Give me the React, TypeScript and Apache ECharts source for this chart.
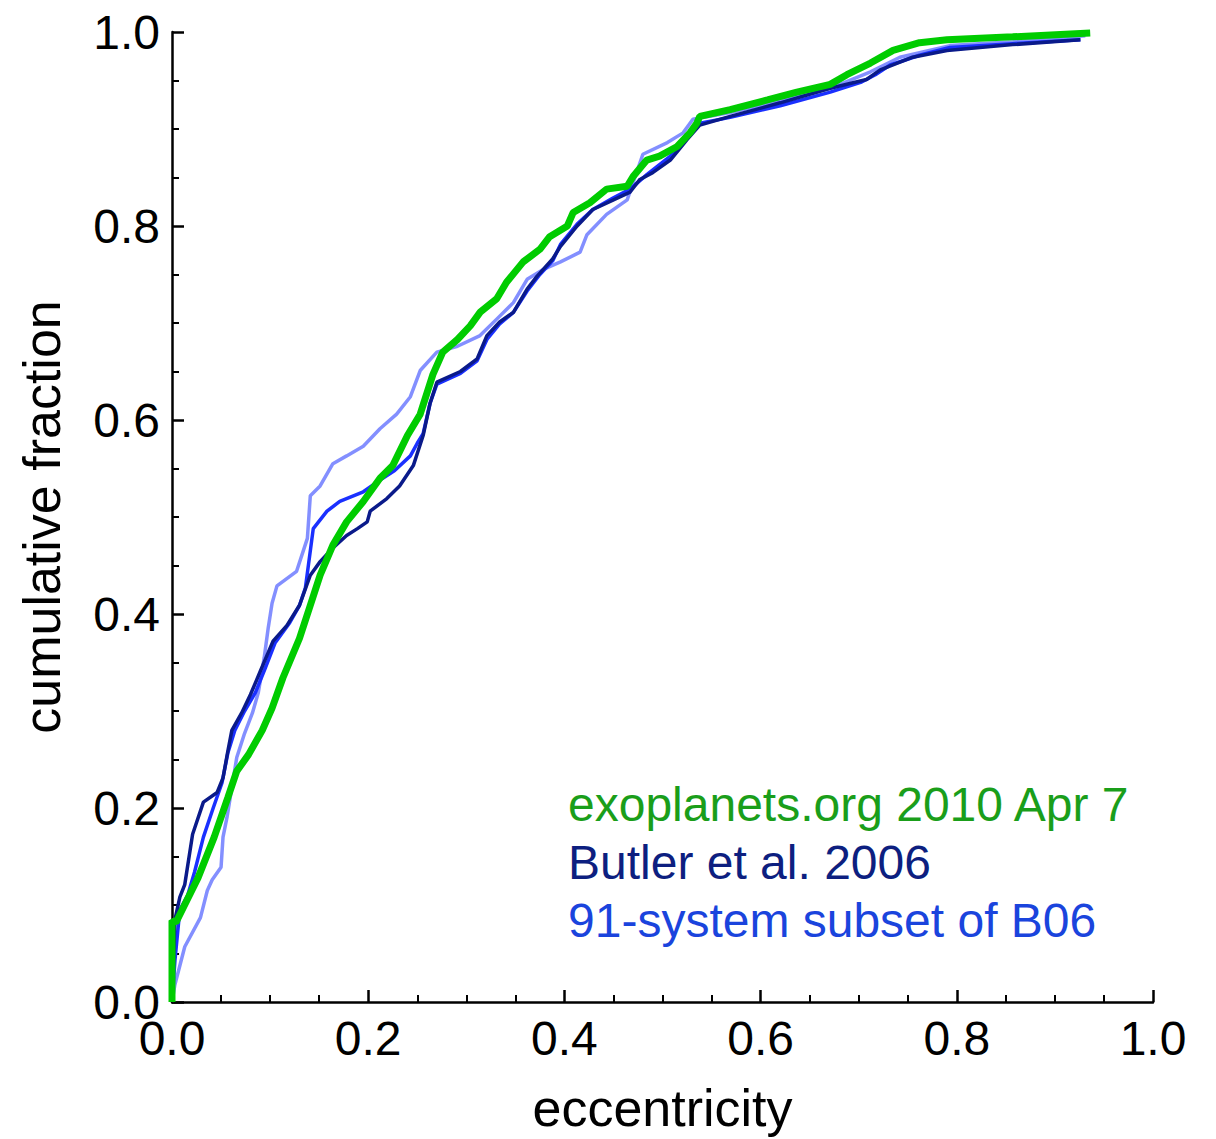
import React, { useEffect, useRef } from "react";
import * as echarts from "echarts";

// [eccentricity, cumulative fraction]
const greenSeries: number[][] = [
  [0, 0], [0, 0.084], [0.004, 0.082], [0.0265, 0.128], [0.043, 0.17], [0.057, 0.211],
  [0.066, 0.238], [0.078, 0.255], [0.092, 0.28], [0.102, 0.303], [0.113, 0.334],
  [0.13, 0.375], [0.141, 0.409], [0.151, 0.44], [0.164, 0.471], [0.178, 0.495],
  [0.195, 0.516], [0.212, 0.54], [0.225, 0.553], [0.24, 0.584], [0.253, 0.606],
  [0.266, 0.647], [0.276, 0.67], [0.291, 0.683], [0.304, 0.697], [0.314, 0.711],
  [0.331, 0.725], [0.341, 0.742], [0.358, 0.763], [0.375, 0.776], [0.385, 0.789],
  [0.403, 0.8], [0.409, 0.814], [0.426, 0.824], [0.443, 0.838], [0.464, 0.841],
  [0.47, 0.851], [0.484, 0.868], [0.497, 0.872], [0.515, 0.882], [0.528, 0.896],
  [0.535, 0.906], [0.538, 0.913], [0.569, 0.92], [0.607, 0.93], [0.637, 0.938],
  [0.671, 0.946], [0.688, 0.956], [0.712, 0.968], [0.735, 0.981], [0.762, 0.989],
  [0.79, 0.992], [0.857, 0.995], [0.936, 0.999],
];

const navySeries: number[][] = [
  [0, 0], [0.003, 0.085], [0.008, 0.108], [0.013, 0.121], [0.021, 0.173], [0.032, 0.206],
  [0.046, 0.216], [0.052, 0.231], [0.057, 0.259], [0.061, 0.28], [0.071, 0.298],
  [0.08, 0.317], [0.09, 0.341], [0.103, 0.372], [0.117, 0.388], [0.13, 0.409],
  [0.141, 0.44], [0.151, 0.454], [0.164, 0.468], [0.178, 0.481], [0.189, 0.488],
  [0.199, 0.495], [0.202, 0.506], [0.219, 0.519], [0.232, 0.532], [0.246, 0.553],
  [0.256, 0.584], [0.263, 0.617], [0.27, 0.639], [0.294, 0.65], [0.311, 0.663],
  [0.321, 0.687], [0.334, 0.701], [0.348, 0.711], [0.362, 0.735], [0.372, 0.748],
  [0.388, 0.766], [0.396, 0.779], [0.413, 0.8], [0.429, 0.817], [0.45, 0.827],
  [0.467, 0.835], [0.477, 0.848], [0.49, 0.855], [0.508, 0.868], [0.525, 0.889],
  [0.538, 0.904], [0.569, 0.913], [0.62, 0.927], [0.671, 0.942], [0.708, 0.951],
  [0.722, 0.961], [0.755, 0.974], [0.79, 0.981], [0.857, 0.987], [0.926, 0.992],
];

const blueSeries: number[][] = [
  [0, 0], [0.003, 0.043], [0.008, 0.095], [0.016, 0.11], [0.023, 0.134], [0.032, 0.17],
  [0.042, 0.2], [0.051, 0.226], [0.057, 0.257], [0.064, 0.28], [0.074, 0.3],
  [0.085, 0.319], [0.095, 0.344], [0.105, 0.37], [0.12, 0.391], [0.13, 0.409],
  [0.136, 0.427], [0.144, 0.488], [0.158, 0.506], [0.171, 0.516], [0.195, 0.526],
  [0.209, 0.536], [0.227, 0.548], [0.243, 0.563], [0.25, 0.576], [0.256, 0.586],
  [0.263, 0.617], [0.27, 0.637], [0.294, 0.648], [0.311, 0.661], [0.321, 0.683],
  [0.334, 0.699], [0.348, 0.711], [0.362, 0.733], [0.375, 0.75], [0.388, 0.764],
  [0.396, 0.781], [0.413, 0.802], [0.429, 0.817], [0.45, 0.829], [0.467, 0.838],
  [0.484, 0.853], [0.508, 0.872], [0.528, 0.897], [0.538, 0.906], [0.569, 0.912],
  [0.62, 0.924], [0.671, 0.938], [0.702, 0.948], [0.717, 0.956], [0.732, 0.966],
  [0.762, 0.976], [0.793, 0.984], [0.857, 0.988], [0.926, 0.992],
];

const lightBlueSeries: number[][] = [
  [0, 0], [0.003, 0.018], [0.013, 0.057], [0.029, 0.087], [0.036, 0.115], [0.041, 0.126],
  [0.05, 0.139], [0.052, 0.17], [0.056, 0.19], [0.061, 0.221], [0.066, 0.252],
  [0.074, 0.277], [0.082, 0.298], [0.088, 0.319], [0.094, 0.355], [0.098, 0.385],
  [0.102, 0.411], [0.107, 0.429], [0.127, 0.444], [0.138, 0.478], [0.141, 0.522],
  [0.151, 0.532], [0.164, 0.555], [0.178, 0.563], [0.195, 0.573], [0.212, 0.591],
  [0.229, 0.606], [0.243, 0.624], [0.253, 0.651], [0.27, 0.67], [0.291, 0.676],
  [0.314, 0.687], [0.331, 0.704], [0.348, 0.721], [0.362, 0.745], [0.378, 0.755],
  [0.396, 0.763], [0.416, 0.773], [0.423, 0.791], [0.443, 0.812], [0.464, 0.827],
  [0.48, 0.874], [0.505, 0.886], [0.521, 0.896], [0.531, 0.91], [0.569, 0.917],
  [0.62, 0.929], [0.671, 0.942], [0.712, 0.959], [0.742, 0.974], [0.793, 0.986],
  [0.857, 0.99], [0.931, 0.996],
];

const legendLabels = ["exoplanets.org 2010 Apr 7", "Butler et al. 2006", "91-system subset of B06"];
const legendColors = ["#1a9e1a", "#0d1f80", "#1a44dd"];

const xAxisTitle = "eccentricity";
const yAxisTitle = "cumulative fraction";

export default function App() {
  const ref = useRef<HTMLDivElement>(null);
  useEffect(() => {
    if (!ref.current) return;
    const chart = echarts.init(ref.current, null, { renderer: "svg" });
    const font = "'Liberation Sans', Arial, Helvetica, sans-serif";
    const axisCommon = {
      type: "value" as const,
      min: 0,
      max: 1,
      interval: 0.2,
      splitLine: { show: false },
      axisLine: { show: true, lineStyle: { color: "#000", width: 2.5 } },
      axisTick: { show: true, inside: true, length: 12, lineStyle: { color: "#000", width: 2.5 } },
      minorTick: { show: true, splitNumber: 4, length: 7, lineStyle: { color: "#000", width: 2 } },
      axisLabel: {
        color: "#000",
        fontSize: 48,
        fontFamily: font,
        formatter: (v: number) => v.toFixed(1),
      },
      nameLocation: "middle" as const,
      nameTextStyle: { color: "#000", fontSize: 52, fontFamily: font },
    };
    chart.setOption({
      animation: false,
      backgroundColor: "#fff",
      grid: { left: 172, right: 63, top: 32, bottom: 134 },
      xAxis: {
        ...axisCommon,
        name: xAxisTitle,
        nameGap: 80,
        axisLabel: { ...axisCommon.axisLabel, margin: 12 },
      },
      yAxis: {
        ...axisCommon,
        name: yAxisTitle,
        nameGap: 104,
        axisLabel: { ...axisCommon.axisLabel, margin: 12 },
      },
      series: [
        {
          type: "line",
          data: lightBlueSeries,
          symbol: "none",
          lineStyle: { color: "#5a6aff", width: 3.5, opacity: 0.75 },
          z: 1,
        },
        {
          type: "line",
          data: blueSeries,
          symbol: "none",
          lineStyle: { color: "#1a30ff", width: 3.5 },
          z: 2,
        },
        {
          type: "line",
          data: navySeries,
          symbol: "none",
          lineStyle: { color: "#0a1a8a", width: 3.5 },
          z: 3,
        },
        {
          type: "line",
          data: greenSeries,
          symbol: "none",
          lineStyle: { color: "#00cc00", width: 7 },
          z: 4,
        },
      ],
      graphic: legendLabels.map((t, i) => ({
        type: "text",
        left: 568,
        top: 780 + i * 58,
        style: { text: t, fill: legendColors[i], fontSize: 48, fontFamily: font },
      })),
    });
    return () => chart.dispose();
  }, []);
  return (
    <div
      ref={ref}
      style={{ position: "fixed", left: 0, top: 0, width: 1216, height: 1139, background: "#fff" }}
    />
  );
}
